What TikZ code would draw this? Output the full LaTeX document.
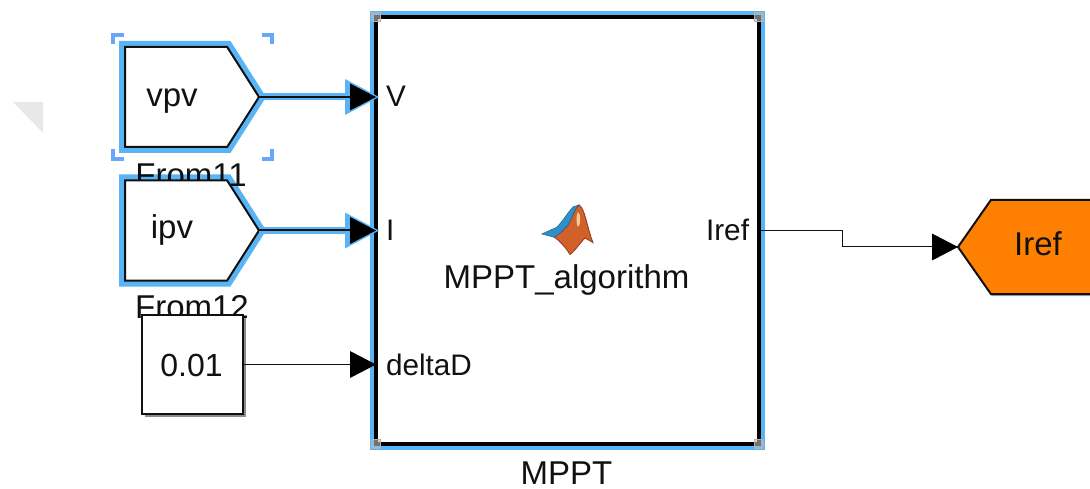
\documentclass[tikz,border=0pt]{standalone}
\usepackage{fontspec}
\setmainfont{Liberation Sans}
\usetikzlibrary{arrows.meta,shapes.symbols,shadows}
\definecolor{halo}{HTML}{58B4F5}
\definecolor{brk}{HTML}{6AA6FA}
\definecolor{ink}{HTML}{111111}
\definecolor{gotoorange}{HTML}{FF8000}
\definecolor{mlblue}{HTML}{2F8FC8}
\definecolor{mlorange}{HTML}{D2602A}
\definecolor{mldark}{HTML}{8E3A18}
\tikzset{
  big/.style={font=\fontsize{33}{36}\selectfont,text=ink,inner sep=0pt,outer sep=0pt},
  port/.style={font=\fontsize{29.7}{32}\selectfont,text=ink,inner sep=0pt,outer sep=0pt},
  sel/.style={preaction={draw=halo,line width=12pt,blend mode=multiply}},
  fromblock/.style={signal,signal to=east,signal pointer angle=115,minimum width=134pt,minimum height=100pt,
    inner sep=0pt,outer sep=0pt,draw=ink,fill=white,line width=2pt,anchor=west},
  gotoblock/.style={signal,signal to=west,signal pointer angle=110,minimum width=170pt,minimum height=94pt,
    inner sep=0pt,outer sep=0pt,draw=ink,fill=gotoorange,line width=2pt,anchor=west},
  wire/.style={draw=ink,line width=1pt,-{Triangle[length=26pt,width=27pt,line width=0pt,fill=black]}},
  halowire/.style={draw=halo,line width=7pt,-{Triangle[length=34pt,width=36pt,line width=0pt,fill=halo]}},
  handle/.style={draw=gray!60,fill=gray!50,fill opacity=.6,minimum size=9pt,inner sep=0pt,line width=1pt},
  bracket/.style={draw=brk,line width=4pt},
}
\begin{document}
\begin{tikzpicture}[x=1pt,y=-1pt]
\useasboundingbox (0,0) rectangle (1090,489);
\clip (0,0) rectangle (1090,489);
% faint screen remnants
\fill[gray!18] (13,102) -- (43,102) -- (43,133) -- cycle;
\node[draw=black!3,fill=black!1,minimum width=196pt,minimum height=23pt,inner sep=0pt,
  font=\fontsize{11}{13}\selectfont,text=black!9] (snip) at (503,122.5) {Rectangular Snip};
% labels hidden in part by the blocks below them
\node[big,anchor=base] (from11) at (191,187) {From11};
\node[big,anchor=base] (from12) at (192,318) {From12};
% main block
\node[draw=black,fill=white,line width=4pt,sel,minimum width=383pt,minimum height=427pt,
  inner sep=0pt,outer sep=0pt] (mppt) at (567.5,230.5) {};
% sources
\node[fromblock,sel] (vpv) at (125,97) {};
\node[fromblock,sel] (ipv) at (125,230.5) {};
\node[draw=ink,fill=white,line width=2pt,minimum width=101pt,minimum height=99pt,inner sep=0pt,outer sep=0pt,
  drop shadow={shadow xshift=3pt,shadow yshift=-3pt,opacity=.45,fill=black}] (const) at (192.5,364.5) {};
\node[gotoblock,drop shadow={shadow xshift=1pt,shadow yshift=-2pt,opacity=.35,fill=black}] (goto) at (958,247) {};
% block texts
\node[big,anchor=base] (vpvt) at (172,107) {vpv};
\node[big,anchor=base] (ipvt) at (172,239) {ipv};
\node[big,anchor=base,font=\fontsize{32}{36}\selectfont] (constt) at (191.5,376) {0.01};
\node[big,anchor=base] (gotot) at (1038,256) {Iref};
\node[big,anchor=base] (algo) at (566.5,288) {MPPT\_algorithm};
\node[big,anchor=base] (name) at (566.5,484) {MPPT};
\node[port,anchor=base west] (pV) at (386,107) {V};
\node[port,anchor=base west] (pI) at (386,241) {I};
\node[port,anchor=base west] (pD) at (386,375) {deltaD};
\node[port,anchor=base east] (pR) at (749,241) {Iref};
% connectors
\coordinate (inV) at (mppt.west |- vpv.east);
\coordinate (inI) at (mppt.west |- ipv.east);
\coordinate (inD) at (mppt.west |- const.east);
\coordinate (outR) at (mppt.east |- 0,231);
\coordinate (bend) at (842,231);
\draw[halowire] (vpv.east) -- ([xshift=3pt]inV);
\draw[wire,line width=2pt] (vpv.east) -- (inV);
\draw[halowire] (ipv.east) -- ([xshift=3pt]inI);
\draw[wire,line width=2pt] (ipv.east) -- (inI);
\draw[wire] (const.east) -- (inD);
\draw[wire] (outR) -- (bend) |- (goto.west);
% handles
\node[handle] (h1) at (mppt.north west) {};
\node[handle] (h2) at (mppt.north east) {};
\node[handle] (h3) at (mppt.south west) {};
\node[handle] (h4) at (mppt.south east) {};
% selection brackets
\draw[bracket] (113,44) -- (113,35) -- (124,35);
\draw[bracket] (262,35) -- (271.5,35) -- (271.5,44);
\draw[bracket] (113,149) -- (113,159) -- (124,159);
\draw[bracket] (262,159) -- (271.5,159) -- (271.5,149);
% MATLAB logo
\fill[mlorange,draw=mldark,line width=.8pt] (579,205) .. controls (585,208) and (587,228) .. (593,242.5)
  .. controls (590,241) and (587,239) .. (585,238)
  .. controls (580,243) and (575,251) .. (570,254.5)
  .. controls (566,248) and (560,241) .. (554,237)
  .. controls (558,235) and (564,230) .. (568,225)
  .. controls (572,218) and (575,208) .. (579,205) -- cycle;
\fill[mlblue,draw=mlblue!70!black,line width=.5pt] (541.7,234) -- (556.7,227.3) .. controls (563,221) and (568,212) .. (573.3,206.7)
  -- (579,205) .. controls (575,208) and (572,218) .. (568,225)
  .. controls (564,230) and (558,235) .. (554,237.3) -- (548.3,235.7) -- cycle;
\fill[orange!40!white] (578,212) .. controls (581,214) and (581,224) .. (578,227)
  .. controls (576,224) and (576,215) .. (578,212) -- cycle;
\end{tikzpicture}
\end{document}
